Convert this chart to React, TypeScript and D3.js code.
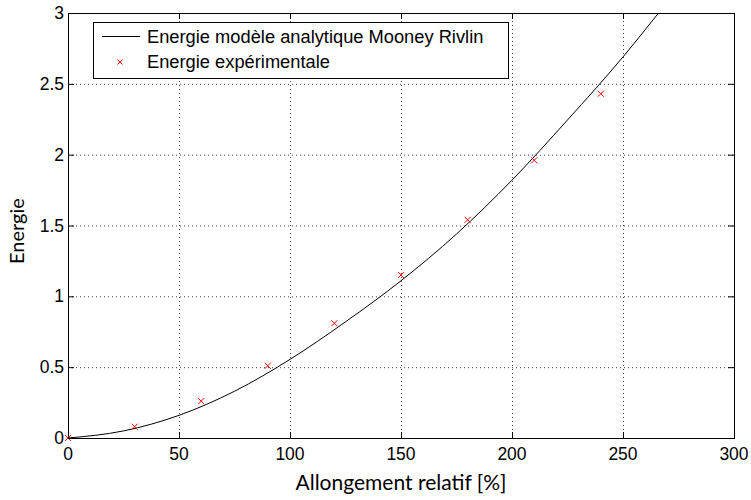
import * as d3 from 'd3'

const W = 751
const H = 500
const margin = { top: 13, right: 17, bottom: 62, left: 68 }

// Mooney Rivlin model curve
const modelStretch = [0, 25, 50, 75, 100, 125, 150, 175, 200, 225, 250, 266]
const modelEnergy = [0, 0.05, 0.16, 0.33, 0.555, 0.82, 1.11, 1.44, 1.82, 2.245, 2.69, 3.0]

// experimental points
const expStretch = [0, 30, 60, 90, 120, 150, 180, 210, 240]
const expEnergy = [0, 0.08, 0.26, 0.51, 0.81, 1.15, 1.54, 1.96, 2.43]

const xTicks = [0, 50, 100, 150, 200, 250, 300]
const yTicks = [0, 0.5, 1, 1.5, 2, 2.5, 3]

const legendLabels = ['Energie modèle analytique Mooney Rivlin', 'Energie expérimentale']

const tickFont = '"Liberation Sans", Arial, sans-serif'
const labelFont = 'Lato, "Open Sans", sans-serif'

function Cross({ x, y, s = 3 }: { x: number; y: number; s?: number }) {
  return (
    <path
      d={`M${x - s},${y - s}L${x + s},${y + s}M${x - s},${y + s}L${x + s},${y - s}`}
      stroke="#ff0000"
      strokeWidth={1}
      fill="none"
    />
  )
}

export default function App() {
  const x0 = margin.left
  const x1 = W - margin.right
  const y0 = H - margin.bottom
  const y1 = margin.top

  const x = d3.scaleLinear().domain([0, 300]).range([x0, x1])
  const y = d3.scaleLinear().domain([0, 3]).range([y0, y1])

  const model = modelStretch.map((s, i) => [s, modelEnergy[i]] as [number, number])
  const line = d3.line<[number, number]>()
    .x(d => x(d[0]))
    .y(d => y(d[1]))
    .curve(d3.curveMonotoneX)

  const tickLen = 6

  return (
    <div style={{ position: 'absolute', left: 0, top: 0 }}>
      <svg width={W} height={H} style={{ display: 'block', background: '#fff' }}>
        <defs>
          <clipPath id="plot-clip">
            <rect x={x0} y={y1} width={x1 - x0} height={y0 - y1} />
          </clipPath>
        </defs>
        <rect x={0} y={0} width={W} height={H} fill="#fff" />

        {/* grid */}
        <g stroke="#000" strokeWidth={1} strokeDasharray="1,3" opacity={0.75}>
          {xTicks.slice(1, -1).map(t => (
            <line key={'gx' + t} x1={x(t) + 0.5} x2={x(t) + 0.5} y1={y0} y2={y1} />
          ))}
          {yTicks.slice(1, -1).map(t => (
            <line key={'gy' + t} x1={x0} x2={x1} y1={y(t) + 0.5} y2={y(t) + 0.5} />
          ))}
        </g>

        {/* ticks, inside on all four sides */}
        <g stroke="#000" strokeWidth={1}>
          {xTicks.map(t => (
            <g key={'tx' + t}>
              <line x1={x(t) + 0.5} x2={x(t) + 0.5} y1={y0} y2={y0 - tickLen} />
              <line x1={x(t) + 0.5} x2={x(t) + 0.5} y1={y1} y2={y1 + tickLen} />
            </g>
          ))}
          {yTicks.map(t => (
            <g key={'ty' + t}>
              <line x1={x0} x2={x0 + tickLen} y1={y(t) + 0.5} y2={y(t) + 0.5} />
              <line x1={x1} x2={x1 - tickLen} y1={y(t) + 0.5} y2={y(t) + 0.5} />
            </g>
          ))}
        </g>

        {/* model curve */}
        <path
          d={line(model) ?? ''}
          fill="none"
          stroke="#000"
          strokeWidth={1}
          clipPath="url(#plot-clip)"
        />

        {/* experimental points */}
        {expStretch.map((s, i) => (
          <Cross key={'p' + i} x={x(s)} y={y(expEnergy[i])} />
        ))}

        {/* axes box */}
        <rect
          x={x0 + 0.5}
          y={y1 + 0.5}
          width={x1 - x0}
          height={y0 - y1}
          fill="none"
          stroke="#000"
          strokeWidth={1}
        />

        {/* tick labels */}
        <g fontFamily={tickFont} fontSize={17.5} fill="#000">
          {xTicks.map(t => (
            <text key={'lx' + t} x={x(t)} y={y0 + 22} textAnchor="middle">
              {t}
            </text>
          ))}
          {yTicks.map(t => (
            <text key={'ly' + t} x={x0 - 4} y={y(t) + 6} textAnchor="end">
              {t}
            </text>
          ))}
        </g>

        {/* axis labels */}
        <text
          x={(x0 + x1) / 2}
          y={490}
          textAnchor="middle"
          fontFamily={labelFont}
          fontSize={21}
          fill="#000"
        >
          Allongement relatif [%]
        </text>
        <text
          transform="translate(24,264) rotate(-90)"
          textAnchor="start"
          fontFamily={labelFont}
          fontSize={20}
          fill="#000"
        >
          Energie
        </text>

        {/* legend */}
        <g>
          <rect x={93.5} y={22.5} width={415} height={56} fill="#fff" stroke="#000" strokeWidth={1} />
          <line x1={102} x2={140} y1={36.5} y2={36.5} stroke="#000" strokeWidth={1} />
          <Cross x={120} y={62} s={2.5} />
          <g fontFamily={tickFont} fontSize={18.3} fill="#000">
            <text x={147} y={43}>{legendLabels[0]}</text>
            <text x={147} y={68}>{legendLabels[1]}</text>
          </g>
        </g>
      </svg>
    </div>
  )
}
